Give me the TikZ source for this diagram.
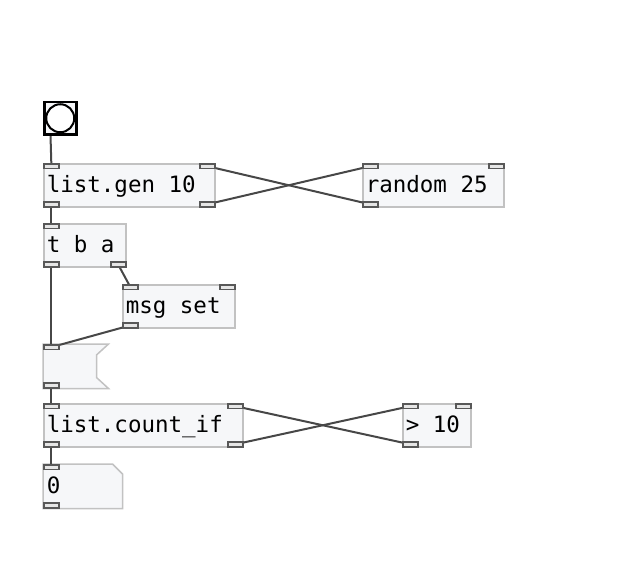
\documentclass[tikz,border=0pt]{standalone}
\usepackage{fontspec}
\newfontfamily\pdmono{DejaVu Sans Mono}
\DeclareRobustCommand{\pdfont}{\pdmono\fontsize{22.5pt}{27pt}\selectfont}
\usepackage{tikz}
\usetikzlibrary{positioning,backgrounds}
\definecolor{boxfill}{HTML}{F6F7F9}
\definecolor{boxline}{HTML}{C2C2C2}
\definecolor{portline}{HTML}{585858}
\definecolor{portfill}{HTML}{E6E6E6}
\definecolor{wirecol}{HTML}{474747}

\begin{document}
\begin{tikzpicture}[x=1pt,y=-1pt,
    pdobj/.style={rectangle,draw=boxline,fill=boxfill,line width=1.5pt,anchor=north west,
      minimum height=43pt,inner xsep=3pt,inner ysep=0pt,text width=#1,align=left,
      text height=17pt,text depth=2pt,font=\pdfont,
      execute at begin node={\spaceskip=0.602em\xspaceskip=0.602em\relax}},
    pdbare/.style={pdobj=#1,draw=none,fill=none},
    port/.style={rectangle,draw=portline,fill=portfill,line width=1.8pt,inner sep=0pt,
      minimum width=15pt,minimum height=4.5pt},
    wire/.style={draw=wirecol,line width=2pt}]
    \useasboundingbox (0,0) rectangle (634,567);

    % bang
    \node[draw=black,line width=2.5pt,fill=boxfill,minimum size=32pt,inner sep=0pt,anchor=north west] (bng) at (43,101) {};
    \draw[line width=2pt,fill=white] (bng.center) circle (14pt);
    \coordinate (bng-o0) at ([xshift=7.5pt]bng.south west);

    % oggetti
    \node[pdobj=165pt] (gen) at (43,163) {list.gen 10};
    \node[pdobj=135pt] (rnd) at (362,163) {random 25};
    \node[pdobj=76pt] (tba) at (43,223) {t b a};
    \node[pdobj=106pt] (set) at (122,284) {msg set};
    \node[pdbare=58pt] (msgbox) at (43,344) {};
    \node[pdobj=193pt] (cnt) at (43,403) {list.count\_if};
    \node[pdobj=62pt] (gt) at (402,403) {> 10};
    \node[pdbare=72pt] (num) at (43,464) {0};

    % inlet / outlet
    \foreach \b in {gen,rnd,tba,set,msgbox,cnt,gt,num}
    {
        \node[port,anchor=north west] (\b-i0) at (\b.north west) {};
        \node[port,anchor=south west] (\b-o0) at (\b.south west) {};
    }
    \foreach \b in {gen,rnd,set,cnt,gt}
        \node[port,anchor=north east] (\b-i1) at (\b.north east) {};
    \foreach \b in {gen,tba,cnt}
        \node[port,anchor=south east] (\b-o1) at (\b.south east) {};

    \begin{scope}[on background layer]
        % messaggio e numero
        \draw[draw=boxline,fill=boxfill,line width=1.5pt] (msgbox.north west) -- (msgbox.north east)
          -- ([xshift=-12pt,yshift=-11pt]msgbox.north east) -- ([xshift=-12pt,yshift=11pt]msgbox.south east)
          -- (msgbox.south east) -- (msgbox.south west) -- cycle;
        \draw[draw=boxline,fill=boxfill,line width=1.5pt] (num.north west) -- ([xshift=-10pt]num.north east)
          -- ([yshift=-10pt]num.north east) -- (num.south east) -- (num.south west) -- cycle;

        % collegamenti
        \draw[wire] (bng-o0) -- (gen-i0.center);
        \draw[wire] (gen-o1.center) -- (rnd-i0.center);
        \draw[wire] (rnd-o0.center) -- (gen-i1.center);
        \draw[wire] (gen-o0.center) -- (tba-i0.center);
        \draw[wire] (tba-o1.center) -- (set-i0.center);
        \draw[wire] (tba-o0.center) -- (msgbox-i0.center);
        \draw[wire] (set-o0.center) -- (msgbox-i0.center);
        \draw[wire] (msgbox-o0.center) -- (cnt-i0.center);
        \draw[wire] (cnt-o1.center) -- (gt-i0.center);
        \draw[wire] (gt-o0.center) -- (cnt-i1.center);
        \draw[wire] (cnt-o0.center) -- (num-i0.center);
    \end{scope}
\end{tikzpicture}
\end{document}
